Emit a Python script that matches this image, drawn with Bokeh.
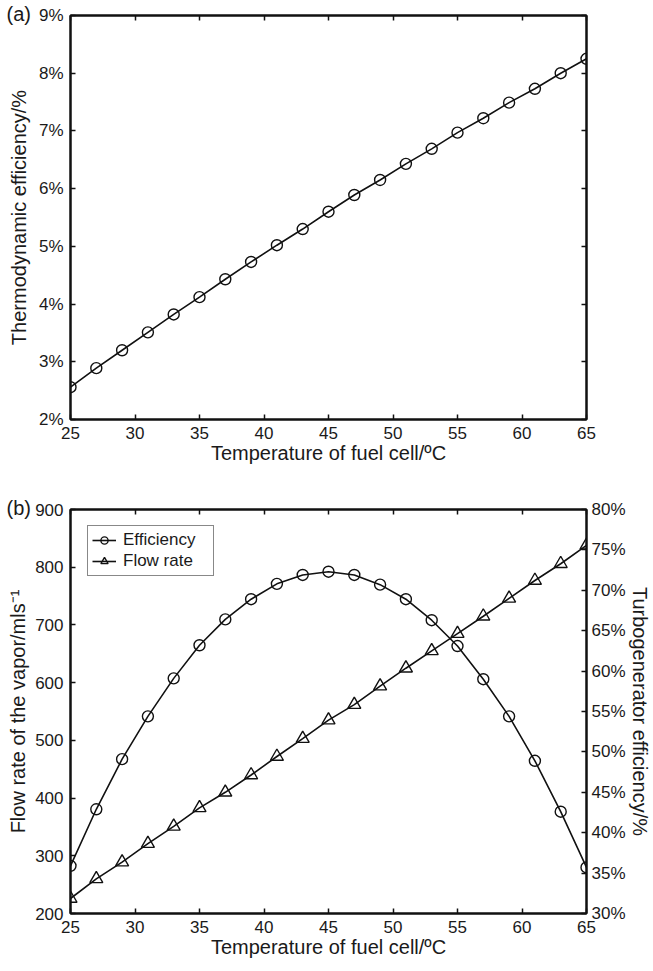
from bokeh.plotting import figure
from bokeh.layouts import column
from bokeh.models import (LinearAxis, Range1d, PrintfTickFormatter, FixedTicker,
                          Legend, LegendItem, CustomJSTickFormatter, Title)
from bokeh.embed import file_html
from bokeh.resources import INLINE

# ---------------- data ----------------
temperature = [25, 27, 29, 31, 33, 35, 37, 39, 41, 43, 45, 47, 49, 51, 53, 55, 57, 59, 61, 63, 65]
thermo_eff = [2.56, 2.89, 3.20, 3.51, 3.82, 4.12, 4.43, 4.73, 5.02, 5.30, 5.60,
              5.89, 6.15, 6.43, 6.69, 6.97, 7.22, 7.49, 7.73, 8.00, 8.25]
flow_rate = [226, 260, 289, 321, 351, 383, 410, 440, 472, 503, 535,
             562, 594, 625, 655, 685, 715, 746, 777, 806, 838]
turbo_eff = [35.9, 42.9, 49.1, 54.4, 59.1, 63.2, 66.4, 68.9, 70.8, 71.9, 72.3,
             71.9, 70.7, 68.9, 66.3, 63.1, 59.0, 54.4, 48.9, 42.6, 35.7]

x_ticks = [25, 30, 35, 40, 45, 50, 55, 60, 65]
thermo_ticks = [2, 3, 4, 5, 6, 7, 8, 9]
flow_ticks = [200, 300, 400, 500, 600, 700, 800, 900]
turbo_ticks = [30, 35, 40, 45, 50, 55, 60, 65, 70, 75, 80]

x_label = "Temperature of fuel cell/ºC"
FONT = "Liberation Sans"
INK = "#111111"


def style_axis(ax, ticks, show_labels=True, fmt=None, standoff=6):
    ax.ticker = FixedTicker(ticks=ticks)
    ax.major_tick_in = 5
    ax.major_tick_out = 0
    ax.minor_tick_in = 0
    ax.minor_tick_out = 0
    ax.axis_line_width = 2
    ax.axis_line_color = INK
    ax.major_tick_line_width = 1.5
    ax.major_tick_line_color = INK
    ax.major_label_text_font = FONT
    ax.major_label_text_color = "#1a1a1a"
    ax.axis_label_text_font = FONT
    ax.axis_label_text_font_style = "normal"
    ax.axis_label_text_font_size = "20px"
    ax.axis_label_text_color = "#1a1a1a"
    if fmt is not None:
        ax.formatter = PrintfTickFormatter(format=fmt)
    if show_labels:
        ax.major_label_text_font_size = "17px"
        ax.major_label_standoff = standoff
    else:
        ax.formatter = CustomJSTickFormatter(code="return ''")
        ax.major_label_text_font_size = "1px"
        ax.major_label_standoff = 0


def panel_tag(p, text):
    p.add_layout(Title(text=text, align="left", offset=-64, standoff=-18,
                       text_font=FONT, text_font_size="20px", text_font_style="normal",
                       text_color="#1a1a1a"), "above")


# ---------------- (a) ----------------
p1 = figure(width=653, height=470, x_range=Range1d(25, 65), y_range=Range1d(2, 9),
            output_backend="svg", toolbar_location=None,
            min_border_left=70, min_border_right=65, min_border_top=15, min_border_bottom=51)
p1.xgrid.visible = False
p1.ygrid.visible = False
p1.outline_line_color = INK
p1.outline_line_width = 2

style_axis(p1.xaxis[0], x_ticks, standoff=7)
p1.xaxis[0].axis_label = x_label
p1.xaxis[0].axis_label_standoff = 0
style_axis(p1.yaxis[0], thermo_ticks, fmt="%d%%", standoff=7)
p1.yaxis[0].axis_label = "Thermodynamic efficiency/%"
p1.yaxis[0].axis_label_standoff = 6

top1 = LinearAxis()
style_axis(top1, x_ticks, show_labels=False)
p1.add_layout(top1, "above")
right1 = LinearAxis()
style_axis(right1, thermo_ticks, show_labels=False)
p1.add_layout(right1, "right")

p1.line(temperature, thermo_eff, line_color=INK, line_width=1.6)
p1.scatter(temperature, thermo_eff, marker="circle", size=11, fill_color=None,
           line_color=INK, line_width=1.4)

panel_tag(p1, "(a)")

# ---------------- (b) ----------------
p2 = figure(width=653, height=501, x_range=Range1d(25, 65), y_range=Range1d(200, 900),
            output_backend="svg", toolbar_location=None,
            min_border_left=70, min_border_right=65, min_border_top=39, min_border_bottom=58)
p2.xgrid.visible = False
p2.ygrid.visible = False
p2.outline_line_color = INK
p2.outline_line_width = 2
p2.extra_y_ranges = {"eff": Range1d(30, 80)}

style_axis(p2.xaxis[0], x_ticks, standoff=7)
p2.xaxis[0].axis_label = x_label
p2.xaxis[0].axis_label_standoff = 0
style_axis(p2.yaxis[0], flow_ticks, standoff=7)
p2.yaxis[0].axis_label = "Flow rate of the vapor/mls⁻¹"
p2.yaxis[0].axis_label_standoff = 3

top2 = LinearAxis()
style_axis(top2, x_ticks, show_labels=False)
p2.add_layout(top2, "above")
right2 = LinearAxis(y_range_name="eff")
style_axis(right2, turbo_ticks, fmt="%d%%", standoff=5)
right2.axis_label = "Turbogenerator efficiency/%"
right2.axis_label_standoff = 0
p2.add_layout(right2, "right")

eff_line = p2.line(temperature, turbo_eff, y_range_name="eff", line_color=INK, line_width=1.6)
eff_pts = p2.scatter(temperature, turbo_eff, y_range_name="eff", marker="circle", size=11,
                     fill_color=None, line_color=INK, line_width=1.4)
flow_line = p2.line(temperature, flow_rate, line_color=INK, line_width=1.6)
flow_pts = p2.scatter(temperature, flow_rate, marker="triangle", size=13,
                      fill_color=None, line_color=INK, line_width=1.4)

legend = Legend(items=[LegendItem(label="Efficiency", renderers=[eff_line, eff_pts]),
                       LegendItem(label="Flow rate", renderers=[flow_line, flow_pts])],
                location=(17, 337), margin=0, padding=4, spacing=1,
                glyph_width=24, glyph_height=18, label_height=18, label_width=86,
                label_standoff=7, label_text_font=FONT, label_text_font_size="17px",
                label_text_color="#1a1a1a", border_line_color=INK, border_line_width=1.5,
                background_fill_color="white")
p2.add_layout(legend, "center")

panel_tag(p2, "(b)")

layout = column(p1, p2, spacing=0)
open("out.html", "w").write(file_html(layout, INLINE))
